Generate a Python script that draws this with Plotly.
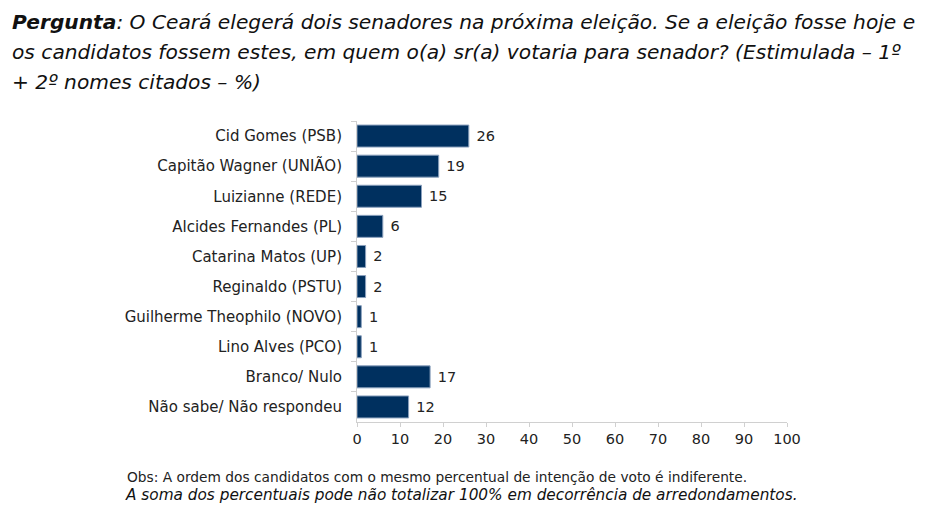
import plotly.graph_objects as go

candidatos = ["Cid Gomes (PSB)", "Capitão Wagner (UNIÃO)", "Luizianne (REDE)",
              "Alcides Fernandes (PL)", "Catarina Matos (UP)", "Reginaldo (PSTU)",
              "Guilherme Theophilo (NOVO)", "Lino Alves (PCO)", "Branco/ Nulo",
              "Não sabe/ Não respondeu"]
percentuais = [26, 19, 15, 6, 2, 2, 1, 1, 17, 12]

titulo = ["<b>Pergunta</b>: O Ceará elegerá dois senadores na próxima eleição. Se a eleição fosse hoje e",
          "os candidatos fossem estes, em quem o(a) sr(a) votaria para senador? (Estimulada – 1º",
          "+ 2º nomes citados – %)"]
obs = "Obs: A ordem dos candidatos com o mesmo percentual de intenção de voto é indiferente."
nota = "A soma dos percentuais pode não totalizar 100% em decorrência de arredondamentos."

fig = go.Figure(go.Bar(
    x=percentuais, y=candidatos, orientation="h",
    marker=dict(color="#00305f", line=dict(color="#8aa0bd", width=1)),
    width=0.73,
    text=percentuais, texttemplate=" %{x}", textposition="outside",
    textfont=dict(family="DejaVu Sans", size=14.5, color="#222222"),
    cliponaxis=False,
))

# a pagina tem 8px de margem no body, por isso a figura e 8px menor
fig.update_layout(
    width=927, height=509,
    margin=dict(l=349, r=148, t=113, b=95),
    plot_bgcolor="white", paper_bgcolor="white",
    showlegend=False,
    font=dict(family="DejaVu Sans", size=13, color="#222222"),
)
fig.update_xaxes(range=[0, 100], dtick=10, showgrid=False, zeroline=False,
                 showline=True, linecolor="#d0d0d0", linewidth=1,
                 ticks="outside", ticklen=4, tickcolor="#d0d0d0", automargin=False,
                 tickfont=dict(size=14.5, color="#222222"))
fig.update_yaxes(autorange="reversed", showgrid=False, showline=True,
                 linecolor="#d0d0d0", linewidth=1, automargin=False,
                 ticks="outside", tickson="boundaries", ticklen=5, tickcolor="#d0d0d0",
                 ticklabelstandoff=11,
                 tickfont=dict(size=15, color="#222222"))

for i, linha in enumerate(titulo):
    fig.add_annotation(text="<i>" + linha + "</i>", xref="paper", yref="paper", x=0, xanchor="left",
                       y=1, yanchor="middle", showarrow=False, align="left",
                       font=dict(family="DejaVu Sans", size=20.2, color="#111111"),
                       xshift=-347, yshift=99 - 30 * i)
fig.add_annotation(text=obs, xref="paper", yref="paper", x=0, xanchor="left",
                   y=0, yanchor="middle", showarrow=False, align="left",
                   font=dict(family="DejaVu Sans", size=13.75, color="#222222"),
                   xshift=-232, yshift=-55)
fig.add_annotation(text="<i>" + nota + "</i>", xref="paper", yref="paper", x=0, xanchor="left",
                   y=0, yanchor="middle", showarrow=False, align="left",
                   font=dict(family="DejaVu Sans", size=15.3, color="#111111"),
                   xshift=-234, yshift=-73)

fig.write_html("out.html")
